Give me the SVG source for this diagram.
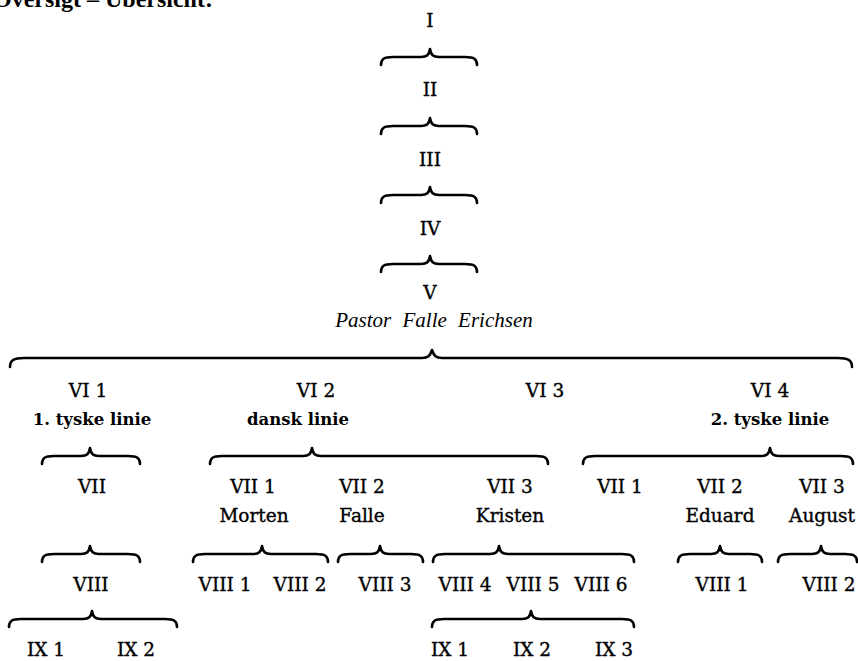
<svg xmlns="http://www.w3.org/2000/svg" width="858" height="661" viewBox="0 0 858 661">
<style>
  text { font-family: "DejaVu Serif", "Liberation Serif", serif; fill: #000; text-anchor: middle; }
  .n { font-size: 18.5px; stroke: #000; stroke-width: 0.35; }
  .b { font-size: 16.5px; font-weight: bold; }
  .it { font-family: "Liberation Serif", "DejaVu Serif", serif; font-size: 21px; font-style: italic; word-spacing: 6px; }
  .title { font-family: "Liberation Serif", serif; font-size: 24px; font-weight: bold; text-anchor: start; }
  .br { fill: none; stroke: #000; stroke-width: 2.6; stroke-linecap: round; stroke-linejoin: round; }
</style>
<rect width="858" height="661" fill="#fff"/>
<text class="title" x="-7" y="7">Oversigt – Übersicht:</text>

<g id="connectors">
  <path class="br" d="M381 65 C381 59,384 57,393 57 L421 57 C427 57,429 55,430 49 C431 55,433 57,439 57 L465 57 C474 57,477 59,477 65"/>
  <path class="br" d="M381 134 C381 128,384 126,393 126 L421 126 C427 126,429 124,430 118 C431 124,433 126,439 126 L465 126 C474 126,477 128,477 134"/>
  <path class="br" d="M381 203 C381 197,384 195,393 195 L421 195 C427 195,429 193,430 187 C431 193,433 195,439 195 L465 195 C474 195,477 197,477 203"/>
  <path class="br" d="M381 272 C381 266,384 264,393 264 L421 264 C427 264,429 262,430 256 C431 262,433 264,439 264 L465 264 C474 264,477 266,477 272"/>
  <path class="br" d="M10 367 C10 360,14 358,24 358 L422 358 C428 358,430 356,432 350 C434 356,436 358,442 358 L838 358 C848 358,852 360,852 367"/>
  <path class="br" d="M42 464 C42 458,45 456,54 456 L81 456 C87 456,89 454,90 448 C91 454,93 456,99 456 L128 456 C137 456,140 458,140 464"/>
  <path class="br" d="M210 464 C210 458,213 456,222 456 L303 456 C309 456,311 454,312 448 C313 454,315 456,321 456 L536 456 C545 456,548 458,548 464"/>
  <path class="br" d="M583 464 C583 458,586 456,595 456 L761 456 C767 456,769 454,770 448 C771 454,773 456,779 456 L841 456 C850 456,853 458,853 464"/>
  <path class="br" d="M42 562 C42 556,45 554,54 554 L81 554 C87 554,89 552,90 546 C91 552,93 554,99 554 L128 554 C137 554,140 556,140 562"/>
  <path class="br" d="M193 562 C193 556,196 554,205 554 L253 554 C259 554,261 552,262 546 C263 552,265 554,271 554 L316 554 C325 554,328 556,328 562"/>
  <path class="br" d="M338 562 C338 556,341 554,350 554 L371 554 C377 554,379 552,380 546 C381 552,383 554,389 554 L411 554 C420 554,423 556,423 562"/>
  <path class="br" d="M433 562 C433 556,436 554,445 554 L490 554 C496 554,498 552,499 546 C500 552,502 554,508 554 L622 554 C631 554,634 556,634 562"/>
  <path class="br" d="M678 562 C678 556,681 554,690 554 L711 554 C717 554,719 552,720 546 C721 552,723 554,729 554 L750 554 C759 554,762 556,762 562"/>
  <path class="br" d="M778 562 C778 556,781 554,790 554 L812 554 C818 554,820 552,821 546 C822 552,824 554,830 554 L845 554 C854 554,857 556,857 562"/>
  <path class="br" d="M9 627 C9 621,12 619,21 619 L83 619 C89 619,91 617,92 611 C93 617,95 619,101 619 L165 619 C174 619,177 621,177 627"/>
  <path class="br" d="M432 627 C432 621,435 619,444 619 L522 619 C528 619,530 617,531 611 C532 617,534 619,540 619 L622 619 C631 619,634 621,634 627"/>
</g>

<g id="n-I"><text class="n" x="430" y="27">I</text></g>
<g id="n-II"><text class="n" x="430" y="96">II</text></g>
<g id="n-III"><text class="n" x="430" y="166">III</text></g>
<g id="n-IV"><text class="n" x="430" y="235">IV</text></g>
<g id="n-V"><text class="n" x="430" y="299">V</text><text class="it" x="434" y="327">Pastor Falle Erichsen</text></g>

<g id="n-VI1"><text class="n" x="88" y="397">VI 1</text><text class="b" x="92" y="425">1. tyske linie</text></g>
<g id="n-VI2"><text class="n" x="316" y="397">VI 2</text><text class="b" x="298" y="425">dansk linie</text></g>
<g id="n-VI3"><text class="n" x="545" y="397">VI 3</text></g>
<g id="n-VI4"><text class="n" x="770" y="397">VI 4</text><text class="b" x="770" y="425">2. tyske linie</text></g>

<g id="n-VII-a"><text class="n" x="92" y="493">VII</text></g>
<g id="n-VII1-Morten"><text class="n" x="253" y="493">VII 1</text><text class="n" x="254" y="522">Morten</text></g>
<g id="n-VII2-Falle"><text class="n" x="362" y="493">VII 2</text><text class="n" x="362" y="522">Falle</text></g>
<g id="n-VII3-Kristen"><text class="n" x="510" y="493">VII 3</text><text class="n" x="510" y="522">Kristen</text></g>
<g id="n-VII1-b"><text class="n" x="620" y="493">VII 1</text></g>
<g id="n-VII2-Eduard"><text class="n" x="720" y="493">VII 2</text><text class="n" x="720" y="522">Eduard</text></g>
<g id="n-VII3-August"><text class="n" x="822" y="493">VII 3</text><text class="n" x="822" y="522">August</text></g>

<g id="n-VIII-a"><text class="n" x="91" y="591">VIII</text></g>
<g id="n-VIII1"><text class="n" x="225" y="591">VIII 1</text></g>
<g id="n-VIII2"><text class="n" x="300" y="591">VIII 2</text></g>
<g id="n-VIII3"><text class="n" x="385" y="591">VIII 3</text></g>
<g id="n-VIII4"><text class="n" x="465" y="591">VIII 4</text></g>
<g id="n-VIII5"><text class="n" x="533" y="591">VIII 5</text></g>
<g id="n-VIII6"><text class="n" x="601" y="591">VIII 6</text></g>
<g id="n-VIII1-b"><text class="n" x="722" y="591">VIII 1</text></g>
<g id="n-VIII2-b"><text class="n" x="829" y="591">VIII 2</text></g>

<g id="n-IX1-a"><text class="n" x="46" y="656">IX 1</text></g>
<g id="n-IX2-a"><text class="n" x="136" y="656">IX 2</text></g>
<g id="n-IX1-b"><text class="n" x="450" y="656">IX 1</text></g>
<g id="n-IX2-b"><text class="n" x="532" y="656">IX 2</text></g>
<g id="n-IX3-b"><text class="n" x="614" y="656">IX 3</text></g>
</svg>
